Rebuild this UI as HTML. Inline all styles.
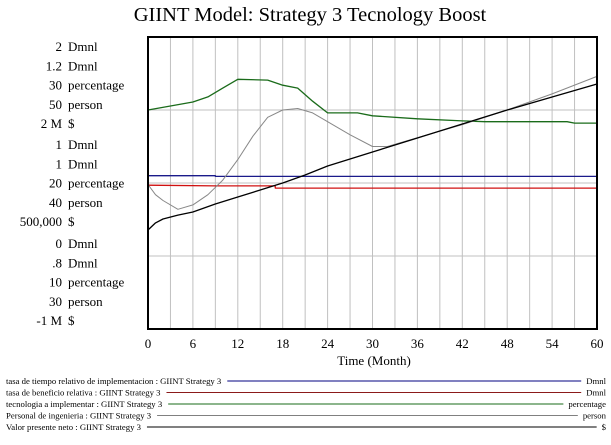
<!DOCTYPE html>
<html><head><meta charset="utf-8"><style>
body{margin:0;background:#fff;width:611px;height:440px;overflow:hidden;font-family:"Liberation Serif",serif}
</style></head><body>
<svg width="611" height="440" font-family="Liberation Serif, serif">
<text x="310" y="21" text-anchor="middle" font-size="20.5">GIINT Model: Strategy 3 Tecnology Boost</text>
<g id="grid"></g>
<g id="series"></g>
<rect x="148" y="37" width="449" height="292" fill="none" stroke="#000" stroke-width="2"/>
<g id="yaxis" font-size="13"></g>
<g id="xaxis" font-size="13"></g>
<text x="374" y="365" text-anchor="middle" font-size="13">Time (Month)</text>
<g id="legend" font-size="8.7"></g>
</svg>
<script>
const greenM=[0,6,8,10,12,16,18,20,22,24,28,30,36,42,45,56,57,60];
const greenV=[25.0,25.55,25.9,26.5,27.1,27.05,26.7,26.5,25.6,24.8,24.8,24.6,24.4,24.25,24.2,24.2,24.1,24.1];
const grayM=[0,1,2,4,6,8,10,12,14,16,18,20,22,24,27,30,32,36,42,48,54,60];
const grayV=[39.9,39.2,38.8,38.2,38.5,39.2,40.2,41.6,43.2,44.5,45.0,45.1,44.8,44.2,43.3,42.5,42.5,43.1,44.0,45.0,46.1,47.3];
const blackM=[0,1,2,4,6,9,12,18,21,24,30,36,42,48,54,60];
const blackV=[17000,90000,130000,170000,202000,284000,356000,500000,582000,675000,818000,962000,1106000,1250000,1384000,1517000];
const blueM=[0,9,9.01,60];
const blueV=[1.05,1.05,1.045,1.045];
const redM=[0,9,17,17.01,60];
const redV=[0.997,0.996,0.996,0.993,0.993];
const xTicks=[0,6,12,18,24,30,36,42,48,54,60];
const yLabelsTop=[["2","Dmnl"],["1.2","Dmnl"],["30","percentage"],["50","person"],["2 M","$"]];
const yLabelsMid=[["1","Dmnl"],["1","Dmnl"],["20","percentage"],["40","person"],["500,000","$"]];
const yLabelsBot=[["0","Dmnl"],[".8","Dmnl"],["10","percentage"],["30","person"],["-1 M","$"]];
const legendNames=["tasa de tiempo relativo de implementacion : GIINT Strategy 3","tasa de beneficio relativa : GIINT Strategy 3","tecnologia a implementar : GIINT Strategy 3","Personal de ingenieria : GIINT Strategy 3","Valor presente neto : GIINT Strategy 3"];
const legendUnits=["Dmnl","Dmnl","percentage","person","$"];
const legendColors=["#000080","#8b1a1a","#1a6b1a","#808080","#000"];

const NS="http://www.w3.org/2000/svg";
const L=148,R=597,T=37,B=329;
const x=m=>L+m/60*(R-L);
const yS=(v,lo,hi)=>B-(v-lo)/(hi-lo)*(B-T);
function mk(tag,attrs,parent){const e=document.createElementNS(NS,tag);for(const k in attrs)e.setAttribute(k,attrs[k]);parent.appendChild(e);return e;}
const grid=document.getElementById('grid');
for(let m=3;m<60;m+=3){const l=mk('line',{x1:x(m),x2:x(m),y1:T,y2:B,stroke:'#c0c0c0','stroke-width':1},grid);

}
for(let i=1;i<4;i++){const yy=T+i*(B-T)/4;const l=mk('line',{x1:L,x2:R,y1:yy,y2:yy,stroke:'#c0c0c0','stroke-width':1},grid);

}
const ser=document.getElementById('series');
function line(ms,vs,lo,hi,col,name,w){const p=ms.map((m,i)=>x(m).toFixed(1)+','+yS(vs[i],lo,hi).toFixed(1)).join(' ');
const e=mk('polyline',{points:p,fill:'none',stroke:col,'stroke-width':w,'stroke-linejoin':'round'},ser);

}
line(blueM,blueV,0,2,'#1a1a8a','line-tasa-tiempo',1.3);
line(redM,redV,0.8,1.2,'#d01010','line-tasa-beneficio',1.3);
line(greenM,greenV,10,30,'#1a6b1a','line-tecnologia',1.3);
line(grayM,grayV,30,50,'#888','line-personal',1);
line(blackM,blackV,-1e6,2e6,'#000','line-valor-presente',1.3);
const ya=document.getElementById('yaxis');
function lab(arr,startY){arr.forEach((s,i)=>{
const yy=startY+i*19.3;
const a=mk('text',{x:62,y:yy,'text-anchor':'end'},ya);a.textContent=s[0];


const b=mk('text',{x:68,y:yy},ya);b.textContent=s[1];

});}
lab(yLabelsTop,51);lab(yLabelsMid,149);lab(yLabelsBot,248);
const xa=document.getElementById('xaxis');
xTicks.forEach(t=>{const e=mk('text',{x:x(t),y:348,'text-anchor':'middle'},xa);e.textContent=t;

});
const lg=document.getElementById('legend');
legendNames.forEach((n,i)=>{const yy=384+i*11.5;
const t=mk('text',{x:6,y:yy},lg);t.textContent=n;


const w=t.getComputedTextLength();
const u=mk('text',{x:606,y:yy,'text-anchor':'end'},lg);u.textContent=legendUnits[i];


const uw=u.getComputedTextLength();
const l=mk('line',{x1:6+w+6,x2:606-uw-5,y1:yy-3,y2:yy-3,stroke:legendColors[i],'stroke-width':1},lg);

});
</script>
</body></html>
